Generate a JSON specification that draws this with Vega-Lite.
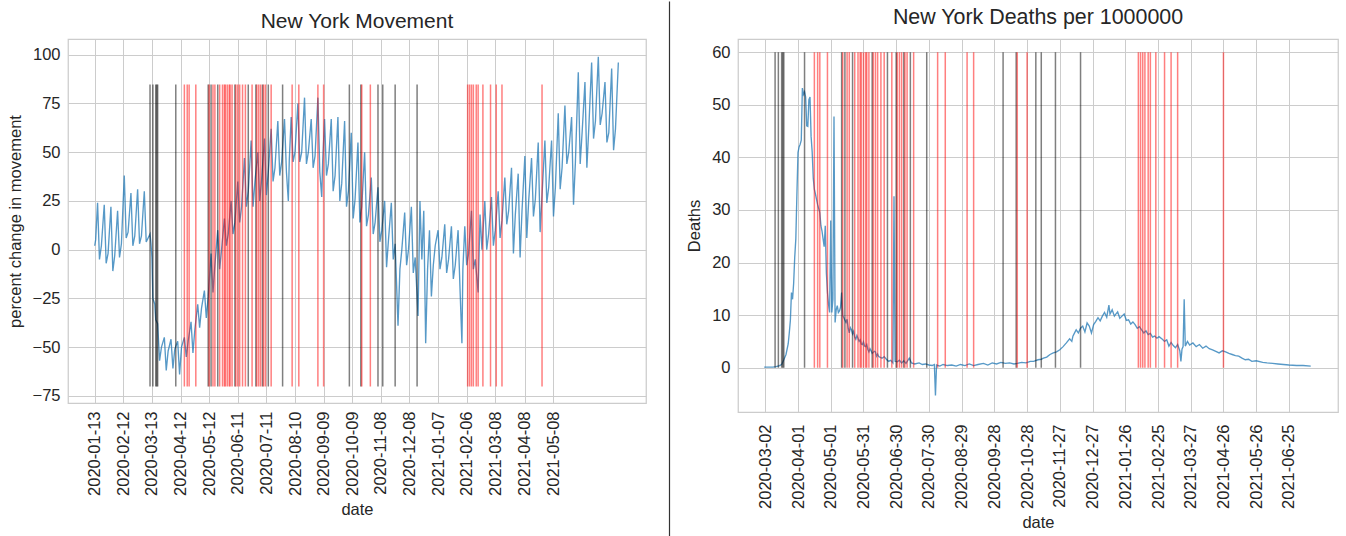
{
  "$schema": "https://vega.github.io/schema/vega-lite/v6.json",
  "padding": {"left": 6, "top": 0, "right": 0, "bottom": 0},
  "spacing": 15,
  "datasets": {
    "mov": [
      {"date":"2020-01-13","value":2},{"date":"2020-01-14","value":5},{"date":"2020-01-16","value":24},{"date":"2020-01-18","value":-5},{"date":"2020-01-20","value":2},
      {"date":"2020-01-23","value":23},{"date":"2020-01-25","value":-7},{"date":"2020-01-27","value":-2},
      {"date":"2020-01-30","value":22},{"date":"2020-02-01","value":-11},{"date":"2020-02-03","value":-3},
      {"date":"2020-02-06","value":20},{"date":"2020-02-08","value":-4},{"date":"2020-02-10","value":3},
      {"date":"2020-02-13","value":38},{"date":"2020-02-15","value":6},{"date":"2020-02-17","value":9},
      {"date":"2020-02-20","value":29},{"date":"2020-02-22","value":2},{"date":"2020-02-24","value":7},
      {"date":"2020-02-27","value":31},{"date":"2020-02-29","value":3},{"date":"2020-03-02","value":7},
      {"date":"2020-03-05","value":30},{"date":"2020-03-07","value":4},{"date":"2020-03-09","value":6},
      {"date":"2020-03-11","value":8},{"date":"2020-03-12","value":3},{"date":"2020-03-13","value":-4},{"date":"2020-03-14","value":-25},
      {"date":"2020-03-16","value":-28},{"date":"2020-03-17","value":-36},{"date":"2020-03-19","value":-38},{"date":"2020-03-21","value":-57},
      {"date":"2020-03-23","value":-50},{"date":"2020-03-26","value":-45},{"date":"2020-03-28","value":-62},{"date":"2020-03-30","value":-52},
      {"date":"2020-04-02","value":-46},{"date":"2020-04-04","value":-61},{"date":"2020-04-06","value":-51},
      {"date":"2020-04-09","value":-47},{"date":"2020-04-11","value":-64},{"date":"2020-04-13","value":-50},
      {"date":"2020-04-16","value":-45},{"date":"2020-04-18","value":-55},{"date":"2020-04-20","value":-47},
      {"date":"2020-04-23","value":-37},{"date":"2020-04-25","value":-53},{"date":"2020-04-27","value":-41},
      {"date":"2020-04-30","value":-28},{"date":"2020-05-02","value":-40},{"date":"2020-05-04","value":-30},
      {"date":"2020-05-07","value":-21},{"date":"2020-05-09","value":-35},{"date":"2020-05-11","value":-24},
      {"date":"2020-05-14","value":-2},{"date":"2020-05-16","value":-22},{"date":"2020-05-18","value":-8},
      {"date":"2020-05-21","value":10},{"date":"2020-05-23","value":-10},{"date":"2020-05-25","value":0},
      {"date":"2020-05-28","value":16},{"date":"2020-05-30","value":2},{"date":"2020-06-01","value":8},
      {"date":"2020-06-04","value":25},{"date":"2020-06-06","value":8},{"date":"2020-06-08","value":14},
      {"date":"2020-06-11","value":35},{"date":"2020-06-13","value":14},{"date":"2020-06-15","value":22},
      {"date":"2020-06-18","value":47},{"date":"2020-06-20","value":22},{"date":"2020-06-22","value":30},
      {"date":"2020-06-25","value":56},{"date":"2020-06-27","value":22},{"date":"2020-06-29","value":35},
      {"date":"2020-07-02","value":50},{"date":"2020-07-04","value":25},{"date":"2020-07-06","value":36},
      {"date":"2020-07-09","value":57},{"date":"2020-07-11","value":28},{"date":"2020-07-13","value":40},
      {"date":"2020-07-16","value":62},{"date":"2020-07-18","value":35},{"date":"2020-07-20","value":42},
      {"date":"2020-07-23","value":66},{"date":"2020-07-25","value":38},{"date":"2020-07-27","value":45},
      {"date":"2020-07-30","value":67},{"date":"2020-08-01","value":40},{"date":"2020-08-03","value":25},{"date":"2020-08-04","value":46},
      {"date":"2020-08-06","value":68},{"date":"2020-08-08","value":45},{"date":"2020-08-10","value":50},
      {"date":"2020-08-13","value":75},{"date":"2020-08-15","value":45},{"date":"2020-08-17","value":50},
      {"date":"2020-08-20","value":78},{"date":"2020-08-22","value":44},{"date":"2020-08-24","value":50},
      {"date":"2020-08-27","value":67},{"date":"2020-08-29","value":42},{"date":"2020-08-31","value":48},
      {"date":"2020-09-03","value":78},{"date":"2020-09-05","value":40},{"date":"2020-09-07","value":27},{"date":"2020-09-08","value":45},
      {"date":"2020-09-10","value":67},{"date":"2020-09-12","value":38},{"date":"2020-09-14","value":44},
      {"date":"2020-09-17","value":67},{"date":"2020-09-19","value":30},{"date":"2020-09-21","value":38},
      {"date":"2020-09-24","value":68},{"date":"2020-09-26","value":25},{"date":"2020-09-28","value":34},
      {"date":"2020-10-01","value":66},{"date":"2020-10-03","value":22},{"date":"2020-10-05","value":30},
      {"date":"2020-10-08","value":60},{"date":"2020-10-10","value":16},{"date":"2020-10-12","value":26},
      {"date":"2020-10-15","value":55},{"date":"2020-10-17","value":14},{"date":"2020-10-19","value":22},
      {"date":"2020-10-22","value":50},{"date":"2020-10-24","value":12},{"date":"2020-10-26","value":18},
      {"date":"2020-10-29","value":37},{"date":"2020-10-31","value":8},{"date":"2020-11-02","value":14},
      {"date":"2020-11-05","value":32},{"date":"2020-11-07","value":4},{"date":"2020-11-09","value":10},
      {"date":"2020-11-12","value":25},{"date":"2020-11-14","value":-9},{"date":"2020-11-16","value":5},
      {"date":"2020-11-19","value":24},{"date":"2020-11-21","value":-5},{"date":"2020-11-23","value":3},
      {"date":"2020-11-26","value":-39},{"date":"2020-11-28","value":-10},{"date":"2020-11-30","value":0},
      {"date":"2020-12-03","value":19},{"date":"2020-12-05","value":-8},{"date":"2020-12-07","value":0},
      {"date":"2020-12-10","value":22},{"date":"2020-12-12","value":-12},{"date":"2020-12-14","value":-4},
      {"date":"2020-12-17","value":-34},{"date":"2020-12-19","value":25},{"date":"2020-12-21","value":-5},
      {"date":"2020-12-23","value":20},{"date":"2020-12-25","value":-48},{"date":"2020-12-27","value":-10},
      {"date":"2020-12-29","value":10},{"date":"2020-12-31","value":-24},{"date":"2021-01-02","value":-8},{"date":"2021-01-04","value":2},
      {"date":"2021-01-07","value":10},{"date":"2021-01-09","value":-10},{"date":"2021-01-11","value":-4},
      {"date":"2021-01-14","value":13},{"date":"2021-01-16","value":-12},{"date":"2021-01-18","value":-5},
      {"date":"2021-01-21","value":12},{"date":"2021-01-23","value":-15},{"date":"2021-01-25","value":-8},
      {"date":"2021-01-28","value":10},{"date":"2021-01-30","value":-20},{"date":"2021-02-01","value":-48},{"date":"2021-02-02","value":-10},
      {"date":"2021-02-04","value":12},{"date":"2021-02-06","value":-8},{"date":"2021-02-08","value":-2},
      {"date":"2021-02-11","value":20},{"date":"2021-02-13","value":-10},{"date":"2021-02-15","value":-5},
      {"date":"2021-02-18","value":-22},{"date":"2021-02-20","value":18},{"date":"2021-02-22","value":0},
      {"date":"2021-02-25","value":25},{"date":"2021-02-27","value":0},{"date":"2021-03-01","value":8},
      {"date":"2021-03-04","value":27},{"date":"2021-03-06","value":2},{"date":"2021-03-08","value":10},
      {"date":"2021-03-11","value":30},{"date":"2021-03-13","value":6},{"date":"2021-03-15","value":15},
      {"date":"2021-03-18","value":37},{"date":"2021-03-20","value":13},{"date":"2021-03-22","value":20},
      {"date":"2021-03-25","value":42},{"date":"2021-03-27","value":-2},{"date":"2021-03-29","value":18},
      {"date":"2021-04-01","value":39},{"date":"2021-04-03","value":-4},{"date":"2021-04-05","value":20},
      {"date":"2021-04-08","value":48},{"date":"2021-04-10","value":6},{"date":"2021-04-12","value":25},
      {"date":"2021-04-15","value":47},{"date":"2021-04-17","value":17},{"date":"2021-04-19","value":26},
      {"date":"2021-04-22","value":55},{"date":"2021-04-24","value":9},{"date":"2021-04-26","value":28},
      {"date":"2021-04-29","value":56},{"date":"2021-05-01","value":24},{"date":"2021-05-03","value":32},
      {"date":"2021-05-06","value":56},{"date":"2021-05-08","value":17},{"date":"2021-05-10","value":32},
      {"date":"2021-05-13","value":70},{"date":"2021-05-15","value":31},{"date":"2021-05-17","value":42},
      {"date":"2021-05-20","value":74},{"date":"2021-05-22","value":44},{"date":"2021-05-24","value":50},
      {"date":"2021-05-27","value":68},{"date":"2021-05-29","value":23},{"date":"2021-05-31","value":45},
      {"date":"2021-06-03","value":91},{"date":"2021-06-05","value":44},{"date":"2021-06-07","value":60},
      {"date":"2021-06-10","value":86},{"date":"2021-06-12","value":42},{"date":"2021-06-14","value":62},
      {"date":"2021-06-17","value":96},{"date":"2021-06-19","value":57},{"date":"2021-06-21","value":66},
      {"date":"2021-06-24","value":99},{"date":"2021-06-26","value":64},{"date":"2021-06-28","value":70},
      {"date":"2021-07-01","value":86},{"date":"2021-07-03","value":55},{"date":"2021-07-05","value":60},
      {"date":"2021-07-08","value":93},{"date":"2021-07-10","value":51},{"date":"2021-07-12","value":62},
      {"date":"2021-07-15","value":96}
    ],
    "deaths": [
      {"date":"2020-03-01","value":0.1},{"date":"2020-03-05","value":0.1},{"date":"2020-03-09","value":0.1},{"date":"2020-03-12","value":0.2},
      {"date":"2020-03-15","value":0.4},{"date":"2020-03-17","value":0.6},{"date":"2020-03-19","value":1.5},{"date":"2020-03-21","value":2.5},
      {"date":"2020-03-23","value":4.5},{"date":"2020-03-24","value":6.6},{"date":"2020-03-25","value":9},{"date":"2020-03-26","value":14.3},
      {"date":"2020-03-27","value":13},{"date":"2020-03-28","value":16},{"date":"2020-03-29","value":21},{"date":"2020-03-30","value":24.5},
      {"date":"2020-03-31","value":33},{"date":"2020-04-01","value":40.9},{"date":"2020-04-02","value":42},{"date":"2020-04-03","value":42.5},
      {"date":"2020-04-04","value":43.3},{"date":"2020-04-05","value":53.2},{"date":"2020-04-06","value":52},{"date":"2020-04-07","value":52.5},
      {"date":"2020-04-08","value":51.5},{"date":"2020-04-09","value":46},{"date":"2020-04-10","value":45.9},{"date":"2020-04-11","value":51},
      {"date":"2020-04-12","value":51.5},{"date":"2020-04-13","value":44},{"date":"2020-04-14","value":41},{"date":"2020-04-15","value":36},
      {"date":"2020-04-16","value":33.9},{"date":"2020-04-17","value":33},{"date":"2020-04-18","value":32},{"date":"2020-04-19","value":31},
      {"date":"2020-04-21","value":29.5},{"date":"2020-04-22","value":27},{"date":"2020-04-23","value":26},{"date":"2020-04-24","value":24.5},
      {"date":"2020-04-25","value":23},{"date":"2020-04-26","value":27},{"date":"2020-04-27","value":18},{"date":"2020-04-28","value":14.3},
      {"date":"2020-04-29","value":12},{"date":"2020-04-30","value":10.5},{"date":"2020-05-01","value":28},{"date":"2020-05-02","value":10.5},
      {"date":"2020-05-03","value":13},{"date":"2020-05-04","value":47.8},{"date":"2020-05-05","value":8.6},{"date":"2020-05-06","value":11},
      {"date":"2020-05-07","value":11.8},{"date":"2020-05-08","value":10.5},{"date":"2020-05-09","value":10.8},{"date":"2020-05-10","value":11.5},
      {"date":"2020-05-11","value":14.3},{"date":"2020-05-12","value":9.9},{"date":"2020-05-13","value":9.5},{"date":"2020-05-15","value":8.6},
      {"date":"2020-05-16","value":9.2},{"date":"2020-05-17","value":7.5},{"date":"2020-05-18","value":6.6},{"date":"2020-05-19","value":7.6},{"date":"2020-05-20","value":7.2},{"date":"2020-05-21","value":6.4},
      {"date":"2020-05-22","value":6.9},{"date":"2020-05-23","value":5.8},{"date":"2020-05-24","value":5.4},{"date":"2020-05-25","value":6.1},{"date":"2020-05-26","value":5.6},{"date":"2020-05-27","value":5},
      {"date":"2020-05-28","value":5.3},{"date":"2020-05-29","value":4.5},{"date":"2020-05-30","value":4.4},{"date":"2020-05-31","value":4.9},{"date":"2020-06-01","value":4.1},{"date":"2020-06-02","value":4},
      {"date":"2020-06-03","value":4.4},{"date":"2020-06-04","value":3.5},{"date":"2020-06-05","value":3},{"date":"2020-06-06","value":3.6},{"date":"2020-06-07","value":3.2},{"date":"2020-06-08","value":2.7},
      {"date":"2020-06-10","value":3.1},{"date":"2020-06-11","value":3},{"date":"2020-06-12","value":2.2},{"date":"2020-06-13","value":2.6},{"date":"2020-06-14","value":2.1},
      {"date":"2020-06-16","value":1.9},{"date":"2020-06-17","value":1.8},{"date":"2020-06-19","value":2.1},{"date":"2020-06-21","value":1.6},
      {"date":"2020-06-23","value":1.2},{"date":"2020-06-25","value":1.4},{"date":"2020-06-27","value":0.9},{"date":"2020-06-28","value":32.6},
      {"date":"2020-06-29","value":1.2},{"date":"2020-07-01","value":1.1},{"date":"2020-07-03","value":1.4},{"date":"2020-07-05","value":0.9},
      {"date":"2020-07-07","value":1.3},{"date":"2020-07-09","value":0.8},{"date":"2020-07-12","value":1.8},{"date":"2020-07-14","value":0.9},
      {"date":"2020-07-17","value":0.7},{"date":"2020-07-21","value":0.9},{"date":"2020-07-24","value":0.6},{"date":"2020-07-27","value":0.7},
      {"date":"2020-07-30","value":0.5},{"date":"2020-08-02","value":0.4},{"date":"2020-08-04","value":0.6},{"date":"2020-08-05","value":-5.3},
      {"date":"2020-08-06","value":0.5},{"date":"2020-08-09","value":0.3},{"date":"2020-08-12","value":0.6},{"date":"2020-08-16","value":0.4},
      {"date":"2020-08-20","value":0.5},{"date":"2020-08-24","value":0.3},{"date":"2020-08-28","value":0.6},{"date":"2020-09-01","value":0.4},
      {"date":"2020-09-05","value":0.7},{"date":"2020-09-09","value":0.4},{"date":"2020-09-13","value":0.6},{"date":"2020-09-18","value":0.8},
      {"date":"2020-09-22","value":0.5},{"date":"2020-09-26","value":0.9},{"date":"2020-09-30","value":0.7},{"date":"2020-10-04","value":1.0},
      {"date":"2020-10-08","value":0.8},{"date":"2020-10-12","value":0.9},{"date":"2020-10-16","value":0.7},{"date":"2020-10-19","value":0.8},
      {"date":"2020-10-23","value":1.0},{"date":"2020-10-27","value":0.9},{"date":"2020-10-31","value":1.2},{"date":"2020-11-03","value":1.2},
      {"date":"2020-11-07","value":1.5},{"date":"2020-11-10","value":1.6},{"date":"2020-11-12","value":1.8},{"date":"2020-11-15","value":2.0},
      {"date":"2020-11-18","value":2.5},{"date":"2020-11-21","value":2.8},{"date":"2020-11-24","value":3.0},{"date":"2020-11-27","value":3.4},
      {"date":"2020-11-30","value":4.0},{"date":"2020-12-03","value":4.7},{"date":"2020-12-06","value":5.5},{"date":"2020-12-08","value":5.0},
      {"date":"2020-12-09","value":6.0},{"date":"2020-12-11","value":6.8},{"date":"2020-12-12","value":7.2},{"date":"2020-12-14","value":6.6},
      {"date":"2020-12-16","value":7.5},{"date":"2020-12-18","value":7.9},{"date":"2020-12-20","value":6.8},{"date":"2020-12-22","value":8.5},
      {"date":"2020-12-24","value":7.9},{"date":"2020-12-26","value":6.6},{"date":"2020-12-28","value":8.2},{"date":"2020-12-30","value":8.8},
      {"date":"2021-01-01","value":9.5},{"date":"2021-01-03","value":8.9},{"date":"2021-01-05","value":9.8},{"date":"2021-01-07","value":10.5},
      {"date":"2021-01-09","value":9.6},{"date":"2021-01-11","value":11.9},{"date":"2021-01-12","value":10.2},{"date":"2021-01-14","value":11.0},
      {"date":"2021-01-16","value":9.8},{"date":"2021-01-17","value":10.1},{"date":"2021-01-19","value":10.6},{"date":"2021-01-21","value":9.4},
      {"date":"2021-01-23","value":9.8},{"date":"2021-01-25","value":10.2},{"date":"2021-01-27","value":9.0},{"date":"2021-01-29","value":9.1},
      {"date":"2021-01-31","value":8.3},{"date":"2021-02-02","value":8.7},{"date":"2021-02-04","value":8.2},{"date":"2021-02-06","value":7.5},
      {"date":"2021-02-08","value":7.8},{"date":"2021-02-10","value":7.2},{"date":"2021-02-12","value":6.6},{"date":"2021-02-14","value":7.0},
      {"date":"2021-02-16","value":6.3},{"date":"2021-02-18","value":6.5},{"date":"2021-02-20","value":5.8},{"date":"2021-02-22","value":6.0},
      {"date":"2021-02-24","value":5.6},{"date":"2021-02-26","value":5.9},{"date":"2021-03-01","value":5.4},{"date":"2021-03-03","value":5.0},
      {"date":"2021-03-05","value":5.3},{"date":"2021-03-07","value":4.1},{"date":"2021-03-09","value":4.8},{"date":"2021-03-11","value":4.2},
      {"date":"2021-03-13","value":3.8},{"date":"2021-03-15","value":4.4},{"date":"2021-03-17","value":3.2},{"date":"2021-03-18","value":1.2},
      {"date":"2021-03-19","value":3.5},{"date":"2021-03-20","value":4.0},{"date":"2021-03-21","value":13.0},{"date":"2021-03-22","value":4.1},
      {"date":"2021-03-24","value":5.0},{"date":"2021-03-26","value":4.3},{"date":"2021-03-29","value":4.7},{"date":"2021-04-01","value":4.0},
      {"date":"2021-04-04","value":4.4},{"date":"2021-04-07","value":3.7},{"date":"2021-04-10","value":4.1},{"date":"2021-04-13","value":3.6},
      {"date":"2021-04-16","value":3.4},{"date":"2021-04-19","value":3.1},{"date":"2021-04-22","value":2.8},{"date":"2021-04-25","value":3.2},
      {"date":"2021-04-28","value":3.0},{"date":"2021-05-01","value":2.7},{"date":"2021-05-04","value":2.5},{"date":"2021-05-07","value":2.3},
      {"date":"2021-05-10","value":2.2},{"date":"2021-05-13","value":1.8},{"date":"2021-05-16","value":1.5},{"date":"2021-05-19","value":1.6},
      {"date":"2021-05-22","value":1.2},{"date":"2021-05-26","value":1.3},{"date":"2021-06-01","value":1.0},{"date":"2021-06-05","value":0.9},
      {"date":"2021-06-10","value":0.8},{"date":"2021-06-15","value":0.7},{"date":"2021-06-20","value":0.6},{"date":"2021-06-25","value":0.5},
      {"date":"2021-07-02","value":0.4},{"date":"2021-07-08","value":0.4},{"date":"2021-07-15","value":0.3}
    ],
    "events": [
      {"date":"2020-03-11","kind":"black"},{"date":"2020-03-14","kind":"black"},{"date":"2020-03-17","kind":"black"},{"date":"2020-03-18","kind":"black"},
      {"date":"2020-03-19","kind":"black"},{"date":"2020-04-07","kind":"black"},{"date":"2020-05-11","kind":"black"},{"date":"2020-05-14","kind":"black"},
      {"date":"2020-05-21","kind":"black"},{"date":"2020-06-08","kind":"black"},{"date":"2020-06-22","kind":"black"},{"date":"2020-06-30","kind":"black"},
      {"date":"2020-07-07","kind":"black"},{"date":"2020-07-13","kind":"black"},{"date":"2020-07-28","kind":"black"},{"date":"2020-10-06","kind":"black"},
      {"date":"2020-10-18","kind":"black"},{"date":"2020-11-05","kind":"black"},{"date":"2020-11-10","kind":"black"},{"date":"2020-11-23","kind":"black"},
      {"date":"2020-12-16","kind":"black"},
      {"date":"2020-04-16","kind":"red"},{"date":"2020-04-19","kind":"red"},{"date":"2020-04-21","kind":"red"},{"date":"2020-04-28","kind":"red"},
      {"date":"2020-05-12","kind":"red"},{"date":"2020-05-16","kind":"red"},{"date":"2020-05-18","kind":"red"},{"date":"2020-05-23","kind":"red"},
      {"date":"2020-05-26","kind":"red"},{"date":"2020-05-28","kind":"red"},{"date":"2020-05-29","kind":"red"},{"date":"2020-05-31","kind":"red"},
      {"date":"2020-06-02","kind":"red"},{"date":"2020-06-03","kind":"red"},{"date":"2020-06-05","kind":"red"},{"date":"2020-06-09","kind":"red"},
      {"date":"2020-06-11","kind":"red"},{"date":"2020-06-13","kind":"red"},{"date":"2020-06-16","kind":"red"},{"date":"2020-06-19","kind":"red"},
      {"date":"2020-06-26","kind":"red"},{"date":"2020-07-01","kind":"red"},{"date":"2020-07-03","kind":"red"},{"date":"2020-07-05","kind":"red"},
      {"date":"2020-07-08","kind":"red"},{"date":"2020-07-10","kind":"red"},{"date":"2020-07-16","kind":"red"},{"date":"2020-08-07","kind":"red"},
      {"date":"2020-08-14","kind":"red"},{"date":"2020-09-03","kind":"red"},{"date":"2020-09-09","kind":"red"},{"date":"2020-10-19","kind":"red"},
      {"date":"2020-10-28","kind":"red"},{"date":"2021-02-07","kind":"red"},{"date":"2021-02-09","kind":"red"},{"date":"2021-02-11","kind":"red"},
      {"date":"2021-02-13","kind":"red"},{"date":"2021-02-16","kind":"red"},{"date":"2021-02-18","kind":"red"},{"date":"2021-02-23","kind":"red"},
      {"date":"2021-03-03","kind":"red"},{"date":"2021-03-09","kind":"red"},{"date":"2021-03-15","kind":"red"},{"date":"2021-04-26","kind":"red"}
    ]
  },
  "hconcat": [
    {
      "width": 578,
      "height": 364,
      "title": {"text": "New York Movement", "offset": 7.5},
      "layer": [
        {
          "data": {"name": "mov"},
          "mark": {"type": "line", "color": "#1f77b4", "strokeWidth": 1.35, "opacity": 0.75},
          "encoding": {
            "x": {"field": "date", "type": "temporal",
              "scale": {"type": "utc", "domain": [{"year":2019,"month":12,"date":16,"utc":true},{"year":2021,"month":8,"date":13,"utc":true}]},
              "axis": {"title": "date", "format": "%Y-%m-%d", "labelAngle": -90, "labelOverlap": false, "tickCount": 40, "titlePadding": 6,
                "values": [
                  {"year":2020,"month":1,"date":13,"utc":true},{"year":2020,"month":2,"date":12,"utc":true},{"year":2020,"month":3,"date":13,"utc":true},
                  {"year":2020,"month":4,"date":12,"utc":true},{"year":2020,"month":5,"date":12,"utc":true},{"year":2020,"month":6,"date":11,"utc":true},
                  {"year":2020,"month":7,"date":11,"utc":true},{"year":2020,"month":8,"date":10,"utc":true},{"year":2020,"month":9,"date":9,"utc":true},
                  {"year":2020,"month":10,"date":9,"utc":true},{"year":2020,"month":11,"date":8,"utc":true},{"year":2020,"month":12,"date":8,"utc":true},
                  {"year":2021,"month":1,"date":7,"utc":true},{"year":2021,"month":2,"date":6,"utc":true},{"year":2021,"month":3,"date":8,"utc":true},
                  {"year":2021,"month":4,"date":8,"utc":true},{"year":2021,"month":5,"date":8,"utc":true}
                ]}},
            "y": {"field": "value", "type": "quantitative",
              "scale": {"domain": [-78.7, 108.1], "nice": false, "zero": false},
              "axis": {"title": "percent change in movement", "values": [-75,-50,-25,0,25,50,75,100], "tickCount": 20, "titlePadding": 9}}
          }
        },
        {
          "data": {"name": "events"},
          "mark": {"type": "rule", "strokeWidth": 1.5, "opacity": 0.5},
          "encoding": {
            "x": {"field": "date", "type": "temporal"},
            "y": {"datum": -70.2},
            "y2": {"datum": 84.7},
            "color": {"field": "kind", "type": "nominal", "scale": {"domain": ["black","red"], "range": ["#000000","#ff0000"]}, "legend": null}
          }
        }
      ]
    },
    {
      "width": 1,
      "height": 497,
      "view": {"stroke": null, "fill": null},
      "data": {"values": [{"top": 1.0753, "bottom": -0.1}]},
      "mark": {"type": "rule", "color": "#333333", "strokeWidth": 1.2},
      "encoding": {
        "y": {"field": "top", "type": "quantitative", "scale": {"domain": [0, 1], "nice": false, "zero": false},
          "axis": {"title": null, "labels": false, "ticks": false, "grid": false, "domain": false, "minExtent": 7, "maxExtent": 7}},
        "y2": {"field": "bottom"}
      }
    },
    {
      "width": 600,
      "height": 373,
      "title": {"text": "New York Deaths per 1000000", "offset": 10.5, "fontSize": 21.4},
      "layer": [
        {
          "data": {"name": "deaths"},
          "mark": {"type": "line", "color": "#1f77b4", "strokeWidth": 1.35, "opacity": 0.75},
          "encoding": {
            "x": {"field": "date", "type": "temporal",
              "scale": {"type": "utc", "domain": [{"year":2020,"month":2,"date":6,"utc":true},{"year":2021,"month":8,"date":9,"utc":true}]},
              "axis": {"title": "date", "format": "%Y-%m-%d", "labelAngle": -90, "labelOverlap": false, "tickCount": 40, "labelPadding": 12, "titlePadding": 6,
                "values": [
                  {"year":2020,"month":3,"date":2,"utc":true},{"year":2020,"month":4,"date":1,"utc":true},{"year":2020,"month":5,"date":1,"utc":true},
                  {"year":2020,"month":5,"date":31,"utc":true},{"year":2020,"month":6,"date":30,"utc":true},{"year":2020,"month":7,"date":30,"utc":true},
                  {"year":2020,"month":8,"date":29,"utc":true},{"year":2020,"month":9,"date":28,"utc":true},{"year":2020,"month":10,"date":28,"utc":true},
                  {"year":2020,"month":11,"date":27,"utc":true},{"year":2020,"month":12,"date":27,"utc":true},{"year":2021,"month":1,"date":26,"utc":true},
                  {"year":2021,"month":2,"date":25,"utc":true},{"year":2021,"month":3,"date":27,"utc":true},{"year":2021,"month":4,"date":26,"utc":true},
                  {"year":2021,"month":5,"date":26,"utc":true},{"year":2021,"month":6,"date":25,"utc":true}
                ]}},
            "y": {"field": "value", "type": "quantitative",
              "scale": {"domain": [-8.44, 62.53], "nice": false, "zero": false},
              "axis": {"title": "Deaths", "values": [0,10,20,30,40,50,60], "tickCount": 20, "titlePadding": 9}}
          }
        },
        {
          "data": {"name": "events"},
          "mark": {"type": "rule", "strokeWidth": 1.5, "opacity": 0.5},
          "encoding": {
            "x": {"field": "date", "type": "temporal"},
            "y": {"datum": 0},
            "y2": {"datum": 60},
            "color": {"field": "kind", "type": "nominal", "scale": {"domain": ["black","red"], "range": ["#000000","#ff0000"]}, "legend": null}
          }
        }
      ]
    }
  ],
  "resolve": {"scale": {"x": "independent", "y": "independent"}},
  "config": {
    "font": "Liberation Sans",
    "view": {"stroke": "#cccccc", "strokeWidth": 1.25},
    "axis": {"domain": false, "ticks": false, "grid": true, "gridColor": "#cccccc", "gridWidth": 1, "gridOpacity": 1,
      "labelFontSize": 16.5, "labelColor": "#262626", "labelPadding": 8, "titleFontSize": 16.5, "titleFontWeight": "normal", "titleColor": "#262626"},
    "title": {"fontSize": 21, "fontWeight": "normal", "color": "#262626"}
  }
}
